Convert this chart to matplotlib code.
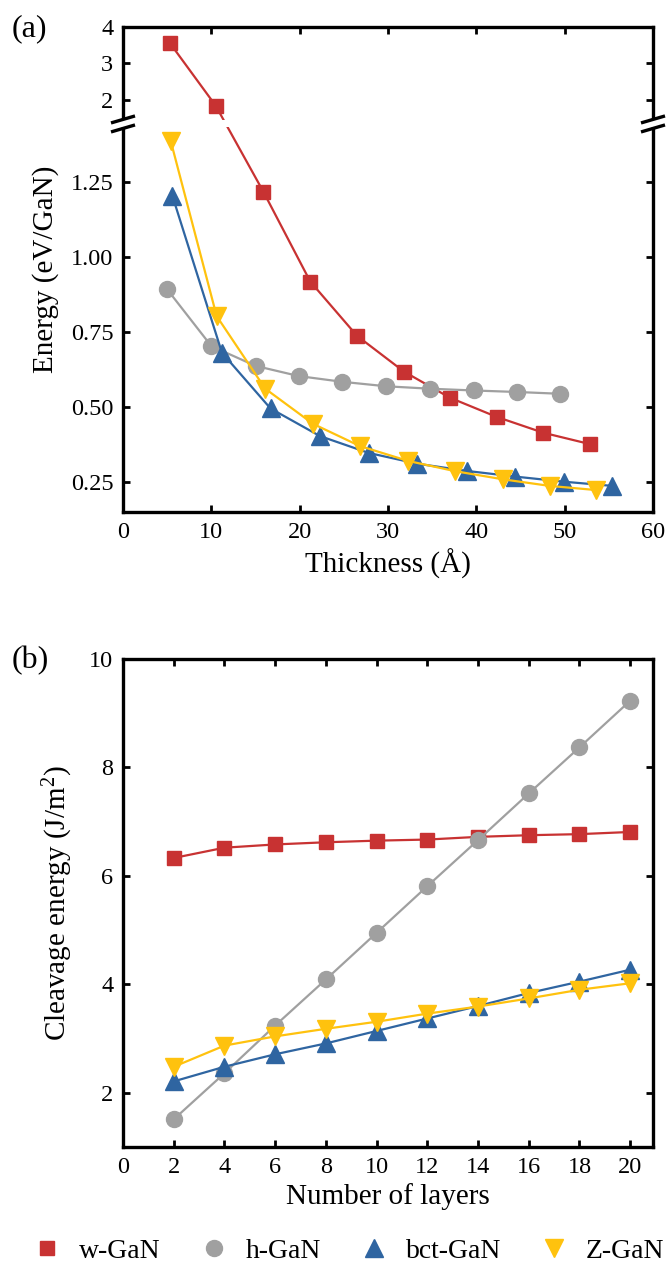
import numpy as np
import matplotlib
matplotlib.use("Agg")
import matplotlib.pyplot as plt
from matplotlib.lines import Line2D
from matplotlib.patches import Rectangle

plt.rcParams['font.family'] = ['Liberation Serif', 'DejaVu Serif']
plt.rcParams['mathtext.default'] = 'regular'

# (a) energy vs thickness
thick_w = [5.3, 10.5, 15.9, 21.2, 26.5, 31.8, 37.0, 42.3, 47.6, 52.9]
energy_w = [3.56, 1.83, 1.217, 0.918, 0.737, 0.618, 0.531, 0.467, 0.414, 0.376]
thick_h = [5.0, 10.0, 15.0, 19.9, 24.8, 29.8, 34.7, 39.7, 44.6, 49.5]
energy_h = [0.892, 0.703, 0.637, 0.603, 0.584, 0.569, 0.561, 0.555, 0.550, 0.544]
thick_bct = [5.6, 11.2, 16.7, 22.3, 27.8, 33.3, 38.9, 44.4, 49.9, 55.4]
energy_bct = [1.203, 0.681, 0.495, 0.403, 0.347, 0.311, 0.287, 0.268, 0.251, 0.237]
thick_z = [5.4, 10.6, 16.1, 21.5, 26.8, 32.3, 37.6, 43.0, 48.3, 53.6]
energy_z = [1.387, 0.803, 0.561, 0.444, 0.370, 0.320, 0.286, 0.259, 0.237, 0.223]

# (b) cleavage energy vs number of layers
layers = [2, 4, 6, 8, 10, 12, 14, 16, 18, 20]
cleave_w = [6.33, 6.52, 6.58, 6.62, 6.65, 6.67, 6.72, 6.75, 6.77, 6.81]
cleave_h = [1.51, 2.36, 3.24, 4.09, 4.95, 5.81, 6.66, 7.52, 8.37, 9.23]
cleave_bct = [2.21, 2.48, 2.71, 2.91, 3.14, 3.37, 3.60, 3.84, 4.05, 4.27]
cleave_z = [2.48, 2.87, 3.04, 3.18, 3.31, 3.46, 3.59, 3.74, 3.90, 4.02]

names = ['w-GaN', 'h-GaN', 'bct-GaN', 'Z-GaN']
colors = ['#c83232', '#a0a0a0', '#2f65a1', '#ffc20e']
markers = ['s', 'o', '^', 'v']
msizes = [10, 11.5, 12.5, 12.5]

# broken y axis of (a): lower part linear, tiny gap, compressed upper part
b1, b2 = 1.43, 1.44
ky = [-100, b1, b2, 100]
kf = [-100, b1, b1 + 8 / 300, b1 + 8 / 300 + (100 - b2) * 36.3 / 300]

def fwd(y):
    return np.interp(y, ky, kf)

def inv(f):
    return np.interp(f, kf, ky)

fig = plt.figure(figsize=(6.66, 12.69), dpi=100)
W, H = 666, 1269
ax1 = fig.add_axes([123 / W, 1 - 512 / H, 530 / W, 485 / H])
ax2 = fig.add_axes([123 / W, 1 - 1147 / H, 530 / W, 488 / H])

xs_a = [thick_w, thick_h, thick_bct, thick_z]
ys_a = [energy_w, energy_h, energy_bct, energy_z]
ys_b = [cleave_w, cleave_h, cleave_bct, cleave_z]

for i in range(4):
    ax1.plot(xs_a[i], ys_a[i], color=colors[i], marker=markers[i], ms=msizes[i],
             lw=1.6, mec=colors[i], zorder=3)
    ax2.plot(layers, ys_b[i], color=colors[i], marker=markers[i], ms=msizes[i],
             lw=1.6, mec=colors[i], zorder=3)

ax1.set_yscale('function', functions=(fwd, inv))
ax1.set_ylim(0.15, 4.0)
ax1.set_xlim(0, 60)
ax1.set_xticks([0, 10, 20, 30, 40, 50, 60])
ax1.set_yticks([0.25, 0.5, 0.75, 1.0, 1.25, 2, 3, 4])
ax1.set_yticklabels(['0.25', '0.50', '0.75', '1.00', '1.25', '2', '3', '4'])
ax1.set_xlabel('Thickness (Å)', fontsize=21, labelpad=4)
ax1.set_ylabel('Energy (eV/GaN)', fontsize=21, labelpad=8)

ax2.set_xlim(0, 20.9)
ax2.set_ylim(1, 10)
ax2.set_xticks(range(0, 21, 2))
ax2.set_yticks([2, 4, 6, 8, 10])
ax2.set_xlabel('Number of layers', fontsize=21, labelpad=4)
ax2.set_ylabel('Cleavage energy (J/m$^2$)', fontsize=21, labelpad=10)

for ax in (ax1, ax2):
    ax.minorticks_off()
    ax.tick_params(direction='in', length=5, width=2, top=True, right=True,
                   labelsize=17.5)
    ax.tick_params(axis='x', pad=7)
    ax.tick_params(axis='y', pad=7)
    for s in ax.spines.values():
        s.set_linewidth(2.4)

# break marks on (a)
to_fig = fig.transFigure.inverted()
ymid = ax1.transData.transform((0, (b1 + b2) / 2))[1]
xl = ax1.transAxes.transform((0, 0))[0]
xr = ax1.transAxes.transform((1, 0))[0]
p0 = to_fig.transform((xl - 15, ymid - 3.5))
p1 = to_fig.transform((xr + 15, ymid + 3.5))
fig.add_artist(Rectangle(p0, p1[0] - p0[0], p1[1] - p0[1], transform=fig.transFigure,
                         facecolor='white', edgecolor='none', zorder=5))
for xc in (xl, xr):
    for dy in (4.5, -4.5):
        a = to_fig.transform((xc - 12, ymid + dy - 3.5))
        b = to_fig.transform((xc + 12, ymid + dy + 3.5))
        fig.add_artist(Line2D([a[0], b[0]], [a[1], b[1]], transform=fig.transFigure,
                              color='k', lw=2.4, solid_capstyle='butt', zorder=6))

fig.text(12 / W, 1 - 29 / H, '(a)', fontsize=23, ha='left', va='center')
fig.text(12 / W, 1 - 661 / H, '(b)', fontsize=23, ha='left', va='center')

handles = [Line2D([], [], ls='none', marker=markers[i], color=colors[i], ms=msizes[i])
           for i in range(4)]
fig.legend(handles, names, loc='center', bbox_to_anchor=(0.524, 1 - 1251 / H), ncol=4,
           frameon=False, fontsize=20, handlelength=1.0, handletextpad=0.65,
           columnspacing=1.4, borderaxespad=0, borderpad=0)

fig.savefig('out.png', dpi=100)
